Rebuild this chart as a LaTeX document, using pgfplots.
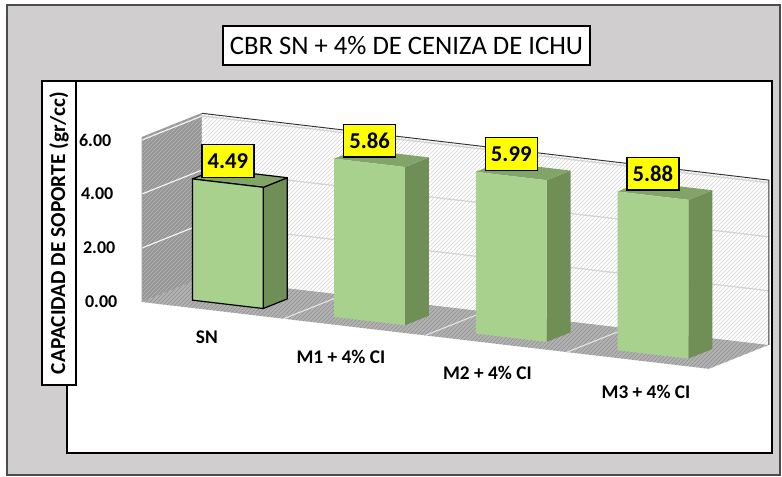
\documentclass[border=0pt]{standalone}
\usepackage{pgfplots}
\pgfplotsset{compat=1.18}
\usepackage{fontspec}
\setmainfont{Carlito}
\usetikzlibrary{patterns}
\definecolor{panel}{RGB}{208,206,206}
\definecolor{frontg}{RGB}{169,209,142}
\definecolor{sideg}{RGB}{112,143,86}
\definecolor{topg}{RGB}{130,164,104}
\definecolor{floorg}{RGB}{178,178,178}
\definecolor{floorh}{RGB}{145,145,145}
\definecolor{leftw}{RGB}{150,150,150}
\definecolor{lefth}{RGB}{182,182,182}
\definecolor{backh}{RGB}{212,212,212}
\definecolor{labyel}{RGB}{255,255,0}

\newcommand{\cbar}[3]{%
  \pgfmathsetmacro\xa{#1-0.25}\pgfmathsetmacro\xb{#1+0.25}%
  \addplot3[mark=none,draw=none,fill=sideg,#3] coordinates {(\xb,0.75,0) (\xb,1.95,0) (\xb,1.95,#2) (\xb,0.75,#2)} -- cycle;
  \addplot3[mark=none,draw=none,fill=topg,#3] coordinates {(\xa,0.75,#2) (\xb,0.75,#2) (\xb,1.95,#2) (\xa,1.95,#2)} -- cycle;
  \addplot3[mark=none,draw=none,fill=frontg,#3] coordinates {(\xa,0.75,0) (\xb,0.75,0) (\xb,0.75,#2) (\xa,0.75,#2)} -- cycle;
  \node[fill=labyel,draw=black,line width=1.1pt,inner sep=0pt,minimum width=39pt,minimum height=24.5pt,anchor=south,yshift=3.75pt,font=\bfseries\fontsize{17}{20}\selectfont] at (axis cs:#1,0.75,#2) {#2};
}

\begin{document}
\begin{tikzpicture}
\useasboundingbox (-159.64pt,-124.24pt) rectangle (426.86pt,232.76pt);
\fill[white] (-159.64pt,-124.24pt) rectangle (426.86pt,232.76pt);
\filldraw[fill=panel,draw=gray!60!black,line width=0.8pt] (-154.39pt,-123.49pt) rectangle (425.36pt,229.01pt);
\filldraw[fill=white,draw=black,line width=1.3pt] (-109.39pt,-106.99pt) rectangle (419.36pt,172.01pt);
\filldraw[fill=white,draw=black,line width=1.1pt] (7.61pt,184.01pt) rectangle (282.86pt,213.26pt);
\node[font=\fontsize{20}{24}\selectfont] at (145.24pt,198.64pt) {CBR SN + 4\% DE CENIZA DE ICHU};
\filldraw[fill=white,draw=black,line width=1.1pt] (-128.14pt,-56.01pt) rectangle (-102.64pt,172.01pt);
\node[rotate=90,font=\bfseries\fontsize{16}{19}\selectfont] at (-115.39pt,58.0pt) {CAPACIDAD DE SOPORTE (gr/cc)};

\begin{axis}[
  at={(0pt,0pt)}, anchor=origin,
  x={(106.275pt,-12.525pt)}, y={(15pt,6pt)}, z={(0pt,20.25pt)},
  xmin=-0.5, xmax=3.5, ymin=0, ymax=3, zmin=0, zmax=6.1,
  hide axis, clip=false,
]
% floor
\addplot3[mark=none,draw=none,fill=floorg] coordinates {(-0.5,0,0) (3.5,0,0) (3.5,3,0) (-0.5,3,0)} -- cycle;
\addplot3[mark=none,draw=none,pattern=north east lines,pattern color=floorh] coordinates {(-0.5,0,0) (3.5,0,0) (3.5,3,0) (-0.5,3,0)} -- cycle;
% left wall
\addplot3[mark=none,draw=none,fill=leftw] coordinates {(-0.5,0,0) (-0.5,3,0) (-0.5,3,6.1) (-0.5,0,6.1)} -- cycle;
\addplot3[mark=none,draw=none,pattern=north east lines,pattern color=lefth] coordinates {(-0.5,0,0) (-0.5,3,0) (-0.5,3,6.1) (-0.5,0,6.1)} -- cycle;
% back wall
\addplot3[mark=none,draw=none,fill=white] coordinates {(-0.5,3,0) (3.5,3,0) (3.5,3,6.1) (-0.5,3,6.1)} -- cycle;
\addplot3[mark=none,draw=none,pattern=north east lines,pattern color=backh] coordinates {(-0.5,3,0) (3.5,3,0) (3.5,3,6.1) (-0.5,3,6.1)} -- cycle;
% grid lines
\pgfplotsinvokeforeach{2,4,6}{
  \addplot3[mark=none,draw=white!92!gray,line width=0.9pt] coordinates {(-0.5,0,#1) (-0.5,3,#1)};
  \addplot3[mark=none,draw=gray!35,line width=0.9pt] coordinates {(-0.5,3,#1) (3.5,3,#1)};
}
\pgfplotsinvokeforeach{0.5,1.5,2.5}{
  \addplot3[mark=none,draw=gray!35,line width=0.9pt] coordinates {(#1,3,0) (#1,3,6.1)};
  \addplot3[mark=none,draw=gray!20,line width=0.8pt] coordinates {(#1,0,0) (#1,3,0)};
}
% wall outlines
\addplot3[mark=none,draw=gray!75,line width=0.6pt] coordinates {(-0.5,0,0) (-0.5,0,6.1) (-0.5,3,6.1)};
\addplot3[mark=none,draw=black!80,line width=0.7pt] coordinates {(-0.5,3,6.1) (3.5,3,6.1) (3.5,3,0)};
% tick labels
\node[anchor=east,xshift=-15pt,font=\bfseries\fontsize{13.5}{16}\selectfont] at (axis cs:-0.5,0,0) {0.00};
\node[anchor=east,xshift=-16.5pt,font=\bfseries\fontsize{13.5}{16}\selectfont] at (axis cs:-0.5,0,2) {2.00};
\node[anchor=east,xshift=-18pt,font=\bfseries\fontsize{13.5}{16}\selectfont] at (axis cs:-0.5,0,4) {4.00};
\node[anchor=east,xshift=-19.5pt,font=\bfseries\fontsize{13.5}{16}\selectfont] at (axis cs:-0.5,0,6) {6.00};
% bars
\cbar{0}{4.49}{draw=black,line width=0.9pt,line join=round}
\cbar{1}{5.86}{}
\cbar{2}{5.99}{}
\cbar{3}{5.88}{}
% category labels
\node[font=\bfseries\fontsize{14.5}{17}\selectfont,xshift=-15.7pt,yshift=-24.5pt] at (axis cs:0,0.75,0) {SN};
\node[font=\bfseries\fontsize{14.5}{17}\selectfont,xshift=-21.5pt,yshift=-26.6pt] at (axis cs:1,0.75,0) {M1 + 4\% CI};
\node[font=\bfseries\fontsize{14.5}{17}\selectfont,xshift=-17.9pt,yshift=-26.5pt] at (axis cs:2,0.75,0) {M2 + 4\% CI};
\node[font=\bfseries\fontsize{14.5}{17}\selectfont,xshift=-5.2pt,yshift=-27.8pt] at (axis cs:3,0.75,0) {M3 + 4\% CI};
\end{axis}
\end{tikzpicture}
\end{document}
